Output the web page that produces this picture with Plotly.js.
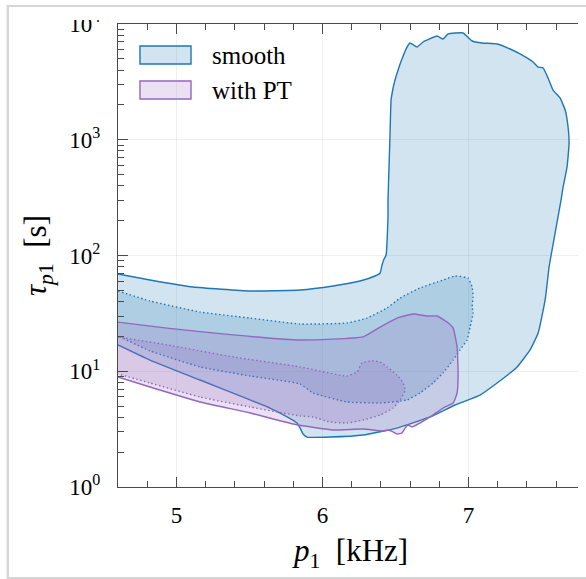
<!DOCTYPE html>
<html>
<head>
<meta charset="utf-8">
<script src="https://cdn.plot.ly/plotly-3.0.1.min.js"></script>
<style>
  html, body { margin: 0; padding: 0; background: #fff; }
  #wrap { position: relative; width: 586px; height: 579px; overflow: hidden; }
  #chart { position: absolute; left: 0; top: 0; width: 586px; height: 579px; }
  #topcover { position: absolute; left: 9px; top: 7px; width: 590px; height: 13px; background: #fff; pointer-events: none; }
  #frame { position: absolute; left: 7px; top: 5px; width: 600px; height: 570px;
           border: 2px solid #d6d6d6; border-right: none; pointer-events: none;
           box-shadow: -1px 0 1px rgba(0,0,0,0.06); }
</style>
</head>
<body>
<div id="wrap">
  <div id="chart"></div>
  <div id="topcover"></div>
  <div id="frame"></div>
</div>
<script>
// Credible regions of the first peak frequency p1 [kHz] against its time scale tau_p1 [s]

const seriesNames = ["smooth", "with PT"];
const xTitle = "<i>p</i><sub>1</sub>\u00a0\u00a0[kHz]";
const yTitle = "<i>τ</i><sub><i>p</i>1</sub>\u00a0\u00a0[s]";

// smooth EOS: outer contour (solid)
const smoothOuterX = [4.600, 4.819, 5.114, 5.504, 5.847, 6.073, 6.258, 6.360, 6.395, 6.408, 6.422, 6.436,
  6.442, 6.449, 6.449, 6.456, 6.463, 6.470, 6.484, 6.497, 6.518, 6.545, 6.579, 6.600, 6.648, 6.689, 6.785, 6.826,
  6.860, 6.963, 7.025, 7.093, 7.196, 7.285, 7.353, 7.442, 7.477, 7.511, 7.545, 7.579, 7.627, 7.662,
  7.682, 7.689, 7.675, 7.648, 7.634, 7.593, 7.552, 7.525, 7.477, 7.422, 7.333, 7.196, 7.079, 6.908,
  6.737, 6.511, 6.278, 6.052, 5.895, 5.867, 5.847, 5.826, 5.758, 5.641, 5.504, 5.162, 4.819, 4.600];
const smoothOuterTau = [69.2, 61.4, 53.4, 49.4, 50.3, 54.5, 60.2, 66.5, 70.6, 82.8, 93.3, 101,
  128, 215, 302, 582, 1143, 2205, 2800, 3280, 4005, 5000, 6325, 6855, 6325, 6990, 7875, 7420,
  8200, 8360, 7130, 6855, 6720, 6080, 5510, 4695, 4250, 4170, 3415, 2690, 2295, 1807,
  1289, 937, 582, 391, 302, 156, 79.6, 41.3, 21.4, 15.3, 10.9, 7.92, 6.23, 5.11,
  4.03, 3.23, 2.81, 2.70, 2.70, 2.87, 3.23, 3.57, 4.03, 4.81, 5.65, 8.40, 12.5, 16.9];

// smooth EOS: inner contour (dotted)
const smoothInnerX = [4.600, 4.819, 5.162, 5.504, 5.847, 6.168, 6.305, 6.442, 6.532, 6.668, 6.826, 6.908,
  6.997, 7.025, 7.032, 7.025, 7.032, 7.011, 6.990, 6.942, 6.895, 6.826, 6.758, 6.668, 6.579, 6.395,
  6.168, 5.936, 5.847, 5.504, 5.162, 4.819, 4.600];
const smoothInnerTau = [49.4, 40.5, 32.5, 28.8, 25.6, 26.1, 28.8, 35.2, 42.9, 52.4, 61.4, 66.5,
  63.9, 53.4, 43.8, 35.9, 31.9, 24.1, 18.6, 15.3, 12.5, 9.66, 7.92, 6.49, 5.65, 5.32,
  5.43, 6.49, 7.76, 9.10, 10.9, 15.0, 20.2];

// EOS with phase transition: outer contour (solid)
const ptOuterX = [4.600, 4.936, 5.388, 5.847, 6.278, 6.395, 6.511, 6.621, 6.716, 6.785, 6.853, 6.895,
  6.922, 6.929, 6.922, 6.895, 6.826, 6.737, 6.668, 6.614, 6.586, 6.566, 6.545, 6.511, 6.484, 6.449,
  6.415, 6.278, 6.073, 5.833, 5.504, 5.162, 4.819, 4.600];
const ptOuterTau = [26.6, 23.6, 20.6, 18.6, 19.8, 24.1, 28.8, 31.2, 30.0, 30.0, 26.6, 23.6,
  16.2, 9.66, 6.49, 5.32, 4.81, 4.03, 3.57, 3.30, 3.43, 3.23, 2.93, 2.87, 2.99, 3.11,
  3.05, 3.17, 3.11, 3.43, 4.36, 5.43, 7.31, 8.92];

// EOS with phase transition: inner contour (dotted)
const ptInnerX = [4.600, 4.936, 5.388, 5.847, 6.168, 6.237, 6.271, 6.340, 6.395, 6.442, 6.511, 6.552,
  6.566, 6.532, 6.484, 6.395, 6.278, 6.168, 6.052, 5.936, 5.847, 5.504, 5.162, 4.819, 4.600];
const ptInnerTau = [19.8, 16.9, 13.3, 10.9, 9.10, 9.85, 11.8, 12.3, 12.0, 10.9, 9.28, 7.92,
  6.89, 5.65, 4.81, 4.19, 3.79, 3.57, 3.64, 4.03, 4.11, 4.91, 5.99, 7.92, 9.47];

// axis ticks
const xTickVals = [5, 6, 7];
const yTickVals = [1, 10, 100, 1000, 10000];
const yTickText = ["10<sup>0</sup>", "10<sup>1</sup>", "10<sup>2</sup>", "10<sup>3</sup>", "10<sup>4</sup>"];
const yMinorVals = [];
[1, 10, 100, 1000].forEach(d => { for (let k = 2; k <= 9; k++) yMinorVals.push(k * d); });

const blue = "#1f77b4", purple = "#9467bd";
const blueFill = "rgba(31,119,180,0.2)", purpleFill = "rgba(148,103,189,0.2)";
const dotted = "1.5px,2.5px";

function region(x, y, line, fill, dash) {
  return {
    type: "scatter", mode: "lines", x: x, y: y, fill: "toself", fillcolor: fill,
    line: { color: line, width: 1.4, dash: dash || "solid", shape: "spline", smoothing: 0.4 },
    hoverinfo: "skip", showlegend: false
  };
}

const traces = [
  region(smoothOuterX, smoothOuterTau, blue, blueFill),
  region(smoothInnerX, smoothInnerTau, blue, blueFill, dotted),
  region(ptOuterX, ptOuterTau, purple, purpleFill),
  region(ptInnerX, ptInnerTau, purple, purpleFill, dotted)
];

const serif = "'Liberation Serif', 'DejaVu Serif', serif";
const axisColor = "#4a4a4a";

const layout = {
  width: 586, height: 579,
  margin: { l: 118, r: 8, t: 24, b: 92 },
  paper_bgcolor: "#fff", plot_bgcolor: "#fff",
  font: { family: serif, color: "#000" },
  xaxis: {
    range: [4.6, 7.75], tickvals: xTickVals, ticktext: xTickVals.map(String),
    ticks: "inside", ticklen: 10, tickwidth: 1, tickcolor: axisColor,
    showline: true, linecolor: axisColor, linewidth: 1, mirror: "allticks",
    showgrid: true, gridcolor: "rgba(0,0,0,0.06)", gridwidth: 1, zeroline: false,
    tickfont: { family: serif, size: 23, color: "#000" }, ticklabelstandoff: 7,
    minor: { dtick: 0.2, ticks: "inside", ticklen: 6, tickcolor: axisColor, showgrid: false },
    automargin: false
  },
  yaxis: {
    type: "log", range: [0, 4], tickvals: yTickVals, ticktext: yTickText,
    ticks: "inside", ticklen: 10, tickwidth: 1, tickcolor: axisColor,
    showline: true, linecolor: axisColor, linewidth: 1,
    showgrid: true, gridcolor: "rgba(0,0,0,0.06)", gridwidth: 1, zeroline: false,
    tickfont: { family: serif, size: 23, color: "#000" }, ticklabelstandoff: 12,
    minor: { tickvals: yMinorVals, ticks: "inside", ticklen: 6, tickcolor: axisColor, showgrid: false },
    title: { text: yTitle, font: { family: serif, size: 31, color: "#000" } },
    automargin: false
  },
  yaxis2: {
    type: "log", range: [0, 4], overlaying: "y", side: "right", anchor: "x",
    tickvals: yTickVals, showticklabels: false, showline: false, showgrid: false, zeroline: false,
    ticks: "inside", ticklen: 3, tickcolor: "#888",
    minor: { tickvals: yMinorVals, ticks: "inside", ticklen: 1.5, tickcolor: "#999", showgrid: false }
  },
  shapes: [
    { type: "rect", xref: "paper", yref: "paper", x0: 0.0478, x1: 0.1587, y0: 0.9136, y1: 0.9525,
      fillcolor: blueFill, line: { color: blue, width: 1.4 } },
    { type: "rect", xref: "paper", yref: "paper", x0: 0.0478, x1: 0.1587, y0: 0.838, y1: 0.877,
      fillcolor: purpleFill, line: { color: purple, width: 1.4 } }
  ],
  annotations: [
    { xref: "paper", yref: "paper", x: 0.2, y: 0.9309, xanchor: "left", yanchor: "middle",
      text: seriesNames[0], showarrow: false, font: { family: serif, size: 25, color: "#000" } },
    { xref: "paper", yref: "paper", x: 0.2, y: 0.8553, xanchor: "left", yanchor: "middle",
      text: seriesNames[1], showarrow: false, font: { family: serif, size: 25, color: "#000" } },
    // horizontal axis title
    { xref: "paper", yref: "paper", x: 0.5043, y: -0.142, xanchor: "center", yanchor: "middle",
      text: xTitle, showarrow: false, font: { family: serif, size: 31, color: "#000" } }
  ],
  showlegend: false
};

Plotly.newPlot("chart", traces, layout, { displayModeBar: false, staticPlot: true });
</script>
</body>
</html>
